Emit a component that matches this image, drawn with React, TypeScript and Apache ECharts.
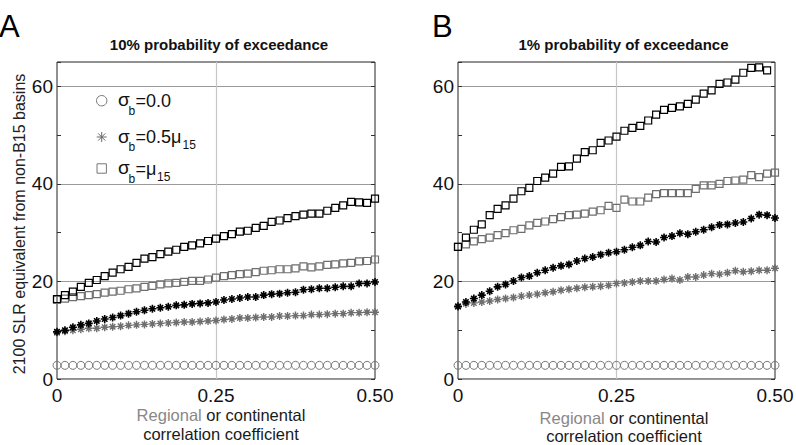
import React, { useEffect, useRef } from "react";
import * as echarts from "echarts";

// correlation coefficient grid (x values)
const corr = [
  0, 0.0125, 0.025, 0.0375, 0.05, 0.0625, 0.075, 0.0875, 0.1, 0.1125, 0.125,
  0.1375, 0.15, 0.1625, 0.175, 0.1875, 0.2, 0.2125, 0.225, 0.2375, 0.25,
  0.2625, 0.275, 0.2875, 0.3, 0.3125, 0.325, 0.3375, 0.35, 0.3625, 0.375,
  0.3875, 0.4, 0.4125, 0.425, 0.4375, 0.45, 0.4625, 0.475, 0.4875, 0.5,
];

const xTickValues = [0, 0.25, 0.5];
const xTickLabels = ["0", "0.25", "0.50"];
const yTickLabelValues = [0, 20, 40, 60];

// sigma_b = 0.0 (same in both panels)
const circlesA = [
  2.8, 2.8, 2.8, 2.8, 2.8, 2.8, 2.8, 2.8, 2.8, 2.8, 2.8, 2.8, 2.8, 2.8, 2.8,
  2.8, 2.8, 2.8, 2.8, 2.8, 2.8, 2.8, 2.8, 2.8, 2.8, 2.8, 2.8, 2.8, 2.8, 2.8,
  2.8, 2.8, 2.8, 2.8, 2.8, 2.8, 2.8, 2.8, 2.8, 2.8, 2.8,
];
const circlesB = [
  2.8, 2.8, 2.8, 2.8, 2.8, 2.8, 2.8, 2.8, 2.8, 2.8, 2.8, 2.8, 2.8, 2.8, 2.8,
  2.8, 2.8, 2.8, 2.8, 2.8, 2.8, 2.8, 2.8, 2.8, 2.8, 2.8, 2.8, 2.8, 2.8, 2.8,
  2.8, 2.8, 2.8, 2.8, 2.8, 2.8, 2.8, 2.8, 2.8, 2.8, 2.8,
];

// Panel A: 10% probability of exceedance
const grayStarsA = [
  9.5, 9.8, 10.0, 10.2, 10.4, 10.4, 10.6, 10.7, 10.8, 11.0, 11.1, 11.2, 11.3,
  11.4, 11.5, 11.6, 11.7, 11.7, 11.8, 11.9, 12.0, 12.2, 12.3, 12.5, 12.5, 12.6,
  12.7, 12.7, 12.9, 12.9, 13.0, 13.0, 13.2, 13.2, 13.3, 13.4, 13.4, 13.6, 13.6,
  13.7, 13.7,
];
const blackStarsA = [
  9.7, 10.0, 10.6, 11.1, 11.4, 11.9, 12.3, 12.6, 13.0, 13.4, 13.8, 14.1, 14.4,
  14.6, 14.8, 15.1, 15.2, 15.4, 15.5, 15.6, 15.8, 16.2, 16.4, 16.6, 16.8, 16.8,
  17.2, 17.4, 17.5, 17.7, 17.8, 18.3, 18.4, 18.6, 18.6, 18.8, 19.0, 19.0, 19.6,
  19.6, 19.9,
];
const graySquaresA = [
  16.2, 16.5, 16.8, 17.0, 17.2, 17.4, 17.7, 17.9, 18.1, 18.4, 18.6, 18.9, 19.1,
  19.4, 19.6, 19.7, 19.9, 20.1, 20.1, 20.4, 20.8, 21.1, 21.3, 21.5, 21.6, 21.9,
  22.2, 22.3, 22.5, 22.5, 22.7, 23.1, 22.9, 23.1, 23.4, 23.5, 23.7, 23.8, 24.1,
  24.2, 24.5,
];
const blackSquaresA = [
  16.4, 17.2, 17.9, 18.9, 19.7, 20.3, 21.1, 21.8, 22.5, 23.0, 23.8, 24.7, 25.0,
  25.6, 26.1, 26.5, 27.1, 27.4, 27.8, 28.3, 28.8, 29.3, 29.7, 30.2, 30.4, 31.0,
  31.4, 32.2, 32.5, 33.0, 33.4, 33.7, 33.9, 33.9, 34.5, 35.1, 35.6, 36.3, 36.2,
  36.1, 37.0,
];

// Panel B: 1% probability of exceedance
const grayStarsB = [
  14.8, 15.4, 15.6, 15.8, 16.0, 16.3, 16.5, 16.7, 17.0, 17.2, 17.4, 17.7, 17.9,
  18.2, 18.4, 18.6, 18.8, 18.9, 19.0, 19.2, 19.6, 19.7, 19.9, 20.1, 20.1, 20.1,
  20.4, 20.6, 20.3, 20.9, 20.9, 21.3, 21.6, 21.5, 21.8, 22.2, 22.0, 22.1, 22.3,
  22.3, 22.7,
];
const blackStarsB = [
  14.9, 15.8, 16.5, 17.2, 18.0, 18.9, 19.4, 20.1, 20.8, 21.1, 21.8, 22.3, 22.8,
  23.2, 23.5, 24.2, 24.7, 25.0, 25.5, 25.9, 26.1, 26.5, 27.0, 27.4, 28.2, 28.1,
  29.0, 29.3, 29.9, 29.7, 30.2, 30.6, 31.1, 31.6, 31.7, 32.0, 32.2, 32.9, 33.7,
  33.6, 33.0,
];
const graySquaresB = [
  27.1, 27.6, 28.2, 28.7, 29.0, 29.5, 29.9, 30.5, 30.8, 31.5, 32.0, 32.3, 32.8,
  33.2, 33.6, 33.7, 33.9, 34.3, 34.6, 35.5, 35.1, 36.8, 36.4, 36.4, 37.2, 37.9,
  38.1, 38.1, 38.1, 38.1, 39.0, 39.7, 39.7, 40.0, 40.6, 40.7, 40.9, 41.8, 41.4,
  42.1, 42.3,
];
const blackSquaresB = [
  27.1, 29.0, 30.6, 31.7, 33.6, 34.9, 35.6, 37.0, 38.5, 39.2, 40.6, 41.3, 42.1,
  43.5, 43.6, 45.2, 46.5, 46.9, 48.4, 48.9, 49.7, 50.9, 51.5, 51.9, 53.0, 54.2,
  55.2, 55.6, 55.9, 56.4, 57.3, 58.5, 59.2, 60.5, 60.8, 61.4, 62.8, 63.8, 63.9,
  63.3, null,
];

const FONT = "'Liberation Sans', Arial, Helvetica, sans-serif";
const STAR = "path://M5,0L5,10M0,5L10,5M1.6,1.6L8.4,8.4M1.6,8.4L8.4,1.6";
const GRAY = "#6e6e6e";
const INK = "#111111";

function pairs(ys: (number | null)[]) {
  const out: [number, number][] = [];
  ys.forEach((y, i) => {
    if (y !== null && y !== undefined) out.push([corr[i], y]);
  });
  return out;
}

function series(
  grid: number,
  ys: (number | null)[],
  symbol: string,
  size: number,
  color: string,
  bw: number
) {
  return {
    type: "scatter",
    xAxisIndex: grid,
    yAxisIndex: grid * 2,
    data: pairs(ys),
    symbol,
    symbolSize: size,
    clip: true,
    itemStyle: { color: "transparent", borderColor: color, borderWidth: bw, opacity: 1 },
    emphasis: { disabled: true },
  };
}

function xAxis(grid: number) {
  return {
    type: "value",
    gridIndex: grid,
    min: 0,
    max: 0.5,
    interval: 0.25,
    axisLine: { show: false },
    axisTick: { show: false },
    axisLabel: {
      fontSize: 19,
      lineHeight: 14,
      fontFamily: FONT,
      color: INK,
      margin: 9,
      formatter: (v: number) => {
        const k = xTickValues.findIndex((t) => Math.abs(t - v) < 1e-9);
        return k >= 0 ? xTickLabels[k] : "";
      },
    },
    splitLine: {
      show: true,
      lineStyle: { color: ["transparent", "#c6c6c6", "transparent"], width: 1.2 },
    },
  };
}

function yAxes(grid: number) {
  return [
    {
      type: "value",
      gridIndex: grid,
      position: "left",
      min: 0,
      max: 65,
      interval: 10,
      axisLine: { show: false },
      axisTick: { show: true, inside: true, length: 4, lineStyle: { color: "#333" } },
      axisLabel: {
        fontSize: 19,
        fontFamily: FONT,
        color: INK,
        margin: 4,
        formatter: (v: number) => (yTickLabelValues.includes(v) ? String(v) : ""),
      },
      splitLine: {
        show: true,
        lineStyle: { color: ["#9a9a9a", "transparent"], width: 1 },
      },
    },
    {
      type: "value",
      gridIndex: grid,
      position: "right",
      min: 0,
      max: 65,
      interval: 10,
      axisLine: { show: false },
      axisTick: { show: true, inside: true, length: 4, lineStyle: { color: "#333" } },
      axisLabel: { show: false },
      splitLine: { show: false },
    },
  ];
}

function xTitle(cx: number, y: number) {
  return [
    {
      type: "text",
      x: cx,
      y,
      style: {
        text: "{g|Regional}{k| or continental}",
        align: "center",
        verticalAlign: "middle",
        lineHeight: 12,
        rich: {
          g: { fill: "#888888", fontSize: 16.5, fontFamily: FONT, lineHeight: 12 },
          k: { fill: "#1a1a1a", fontSize: 16.5, fontFamily: FONT, lineHeight: 12 },
        },
      },
    },
    {
      type: "text",
      x: cx,
      y: y + 18.5,
      style: {
        text: "correlation coefficient",
        align: "center",
        verticalAlign: "middle",
        fill: "#1a1a1a",
        fontSize: 16.5,
        lineHeight: 12,
        fontFamily: FONT,
      },
    },
  ];
}

function txt(x: number, y: number, text: string, size: number, fill = INK, extra: any = {}) {
  return {
    type: "text",
    x,
    y,
    style: { text, fontSize: size, fontFamily: FONT, fill, align: "left", verticalAlign: "middle", ...extra },
  };
}

function legend() {
  const mx = 101.7;
  const r1 = 100.7;
  const r2 = 137;
  const r3 = 168.5;
  const star = (cx: number, cy: number) => {
    const s = 5;
    const d = 3.6;
    const ls = { stroke: "#6a6a6a", lineWidth: 1 };
    return [
      { type: "line", shape: { x1: cx - s, y1: cy, x2: cx + s, y2: cy }, style: ls },
      { type: "line", shape: { x1: cx, y1: cy - s, x2: cx, y2: cy + s }, style: ls },
      { type: "line", shape: { x1: cx - d, y1: cy - d, x2: cx + d, y2: cy + d }, style: ls },
      { type: "line", shape: { x1: cx - d, y1: cy + d, x2: cx + d, y2: cy - d }, style: ls },
    ];
  };
  const main = { lineHeight: 12 };
  const sub = { lineHeight: 10 };
  return [
    { type: "circle", shape: { cx: mx, cy: r1, r: 5.2 }, style: { fill: "none", stroke: "#777", lineWidth: 1 } },
    ...star(mx, r2),
    { type: "rect", shape: { x: mx - 4.7, y: r3 - 4.7, width: 9.4, height: 9.4 }, style: { fill: "none", stroke: "#777", lineWidth: 1 } },
    txt(118, r1 - 1, "σ", 19, INK, main),
    txt(128.5, r1 + 10, "b", 12, INK, sub),
    txt(135.5, r1, "=0.0", 18, INK, main),
    txt(118, r2 - 1, "σ", 19, INK, main),
    txt(128.5, r2 + 10, "b", 12, INK, sub),
    txt(135.5, r2, "=0.5μ", 18, INK, main),
    txt(182.5, r2 + 8, "15", 12, INK, sub),
    txt(118, r3 - 1, "σ", 19, INK, main),
    txt(128.5, r3 + 10, "b", 12, INK, sub),
    txt(135.5, r3, "=μ", 18, INK, main),
    txt(157, r3 + 8, "15", 12, INK, sub),
  ];
}

export default function App() {
  const ref = useRef<HTMLDivElement>(null);
  useEffect(() => {
    if (!ref.current) return;
    const chart = echarts.init(ref.current, null, { renderer: "svg" });
    const grids = [
      { left: 57, top: 62, width: 318, height: 317 },
      { left: 458, top: 62, width: 317, height: 317 },
    ].map((g) => ({
      ...g,
      show: true,
      borderColor: "#222",
      borderWidth: 1,
      backgroundColor: "transparent",
      containLabel: false,
      outerBoundsMode: "none",
    }));
    const option: any = {
      animation: false,
      backgroundColor: "#ffffff",
      textStyle: { fontFamily: FONT },
      grid: grids,
      xAxis: [xAxis(0), xAxis(1)],
      yAxis: [...yAxes(0), ...yAxes(1)],
      series: [
        series(0, circlesA, "circle", 8, "#777", 1),
        series(0, grayStarsA, STAR, 8, GRAY, 1.4),
        series(0, blackStarsA, STAR, 8, "#000", 1.6),
        series(0, graySquaresA, "rect", 7, GRAY, 1.2),
        series(0, blackSquaresA, "rect", 7, "#000", 1.2),
        series(1, circlesB, "circle", 8, "#777", 1),
        series(1, grayStarsB, STAR, 8, GRAY, 1.4),
        series(1, blackStarsB, STAR, 8, "#000", 1.6),
        series(1, graySquaresB, "rect", 7, GRAY, 1.2),
        series(1, blackSquaresB, "rect", 7, "#000", 1.2),
      ],
      graphic: [
        txt(-1, 26, "A", 31, "#000"),
        txt(432, 26, "B", 31, "#000"),
        {
          type: "text",
          x: 219,
          y: 44,
          style: { text: "10% probability of exceedance", align: "center", verticalAlign: "middle", fontSize: 15, fontWeight: "bold", fontFamily: FONT, fill: INK },
        },
        {
          type: "text",
          x: 623.5,
          y: 44,
          style: { text: "1% probability of exceedance", align: "center", verticalAlign: "middle", fontSize: 15, fontWeight: "bold", fontFamily: FONT, fill: INK },
        },
        {
          type: "text",
          x: 19,
          y: 224,
          rotation: Math.PI / 2,
          style: { text: "2100 SLR equivalent from non-B15 basins", align: "center", verticalAlign: "middle", fontSize: 16, fontFamily: FONT, fill: "#222" },
        },
        ...xTitle(221, 415),
        ...xTitle(624, 417.5),
        ...legend(),
      ],
    };
    chart.setOption(option);
    return () => chart.dispose();
  }, []);
  return (
    <div
      ref={ref}
      style={{ position: "fixed", left: 0, top: 0, width: 796, height: 445, background: "#fff" }}
    />
  );
}
